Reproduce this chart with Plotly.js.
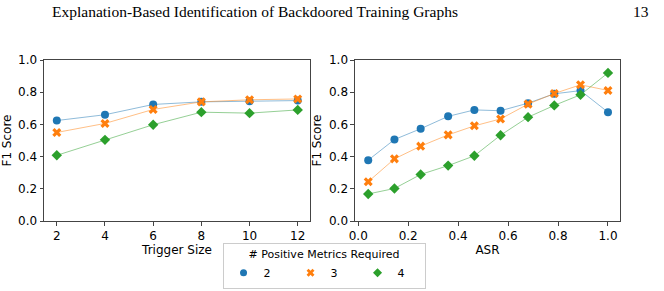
<!DOCTYPE html>
<html><head><meta charset="utf-8">
<script src="https://cdn.plot.ly/plotly-3.0.1.min.js"></script>
<style>body{margin:0;background:#fff}#c{width:664px;height:291px}</style>
</head><body><div id="c"></div>
<script>
const triggerSize = [2, 4, 6, 8, 10, 12];
const tsBlue   = [0.624, 0.660, 0.724, 0.740, 0.744, 0.748];
const tsOrange = [0.550, 0.606, 0.693, 0.740, 0.753, 0.758];
const tsGreen  = [0.408, 0.504, 0.598, 0.676, 0.670, 0.690];

const asr = [0.04, 0.145, 0.25, 0.36, 0.465, 0.57, 0.68, 0.785, 0.89, 1.0];
const asrBlue   = [0.378, 0.506, 0.573, 0.650, 0.690, 0.685, 0.732, 0.790, 0.810, 0.676];
const asrOrange = [0.244, 0.386, 0.465, 0.535, 0.591, 0.634, 0.726, 0.792, 0.846, 0.811];
const asrGreen  = [0.168, 0.202, 0.289, 0.344, 0.405, 0.533, 0.645, 0.718, 0.784, 0.920];

const seriesNames = ['2', '3', '4'];
const colors = ['#1f77b4', '#ff7f0e', '#2ca02c'];
const lineColors = ['rgba(31,119,180,0.5)', 'rgba(255,127,14,0.5)', 'rgba(44,160,44,0.5)'];
const symbols = ['circle', 'x', 'diamond'];

const left = [tsBlue, tsOrange, tsGreen];
const right = [asrBlue, asrOrange, asrGreen];
const traces = [];
for (let i = 0; i < 3; i++) {
  traces.push({x: triggerSize, y: left[i], type: 'scatter', mode: 'lines+markers',
    name: seriesNames[i], showlegend: false,
    line: {color: lineColors[i], width: 1},
    marker: {color: colors[i], symbol: symbols[i], size: 8, line: {width: 0}},
    xaxis: 'x', yaxis: 'y'});
}
for (let i = 0; i < 3; i++) {
  traces.push({x: asr, y: right[i], type: 'scatter', mode: 'lines+markers',
    name: seriesNames[i], showlegend: false,
    line: {color: lineColors[i], width: 1},
    marker: {color: colors[i], symbol: symbols[i], size: 8, line: {width: 0}},
    xaxis: 'x2', yaxis: 'y2'});
}
// legend-only marker entries
for (let i = 0; i < 3; i++) {
  traces.push({x: [null], y: [null], type: 'scatter', mode: 'markers',
    name: seriesNames[i], showlegend: true,
    marker: {color: colors[i], symbol: symbols[i], size: 7, line: {width: 0}},
    xaxis: 'x', yaxis: 'y'});
}

const axFont = {family: 'DejaVu Sans', size: 12, color: '#000'};
const legFont = {family: 'DejaVu Sans', size: 11, color: '#000'};
const common = {showgrid: false, zeroline: false, showline: true, mirror: true,
  linecolor: '#444', linewidth: 1, ticks: 'outside', ticklen: 3.5, tickwidth: 1,
  tickcolor: '#444', tickfont: axFont};

const layout = {
  width: 664, height: 291,
  margin: {l: 0, r: 0, t: 0, b: 0, autoexpand: false},
  paper_bgcolor: '#fff', plot_bgcolor: '#fff',
  showlegend: true,
  xaxis: Object.assign({}, common, {domain: [0.0663, 0.4669], range: [1.47, 12.51],
    tickvals: triggerSize, title: {text: 'Trigger Size', font: axFont, standoff: 1}, anchor: 'y'}),
  yaxis: Object.assign({}, common, {domain: [0.2405, 0.7938], range: [0, 1],
    tickvals: [0, 0.2, 0.4, 0.6, 0.8, 1.0], tickformat: '.1f',
    title: {text: 'F1 Score', font: axFont, standoff: 4}, anchor: 'x'}),
  xaxis2: Object.assign({}, common, {domain: [0.5346, 0.9337], range: [-0.013, 1.048],
    tickvals: [0, 0.2, 0.4, 0.6, 0.8, 1.0], tickformat: '.1f',
    title: {text: 'ASR', font: axFont, standoff: 1}, anchor: 'y2'}),
  yaxis2: Object.assign({}, common, {domain: [0.2405, 0.7938], range: [0, 1],
    tickvals: [0, 0.2, 0.4, 0.6, 0.8, 1.0], tickformat: '.1f',
    title: {text: 'F1 Score', font: axFont, standoff: 4}, anchor: 'x2'}),
  legend: {orientation: 'h', x: 0.488, xanchor: 'center', y: 1 - 243 / 291, yanchor: 'top',
    bordercolor: '#ccc', borderwidth: 1, bgcolor: '#fff',
    font: legFont, entrywidth: 22, itemwidth: 30, tracegroupgap: 0,
    title: {text: '# Positive Metrics Required', side: 'top center', font: legFont}},
  annotations: [
    {text: 'Explanation-Based Identification of Backdoored Training Graphs', xref: 'paper', yref: 'paper',
     x: 255 / 664, y: 1 - 12 / 291, xanchor: 'center', yanchor: 'middle', showarrow: false,
     font: {family: 'Liberation Serif', size: 15.5, color: '#000'}},
    {text: '13', xref: 'paper', yref: 'paper', x: 651 / 664, y: 1 - 12 / 291,
     xanchor: 'right', yanchor: 'middle', showarrow: false,
     font: {family: 'Liberation Serif', size: 15.5, color: '#000'}}
  ]
};
Plotly.newPlot('c', traces, layout, {displayModeBar: false, staticPlot: true});
</script></body></html>
